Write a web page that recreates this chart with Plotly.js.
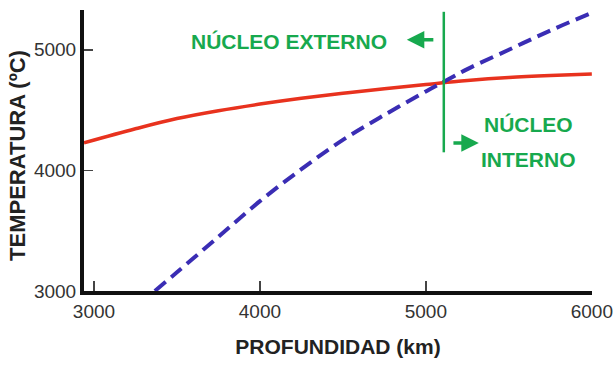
<!DOCTYPE html>
<html><head><meta charset="utf-8">
<script src="https://cdn.plot.ly/plotly-3.0.1.min.js"></script>
<style>body{margin:0;background:#fff}#c{width:614px;height:370px}</style>
</head><body><div id="c"></div>
<script>
const redDepth = [2940, 3250, 3500, 3750, 4000, 4250, 4500, 4750, 5000, 5250, 5500, 5750, 6000];
const redTemp  = [4228, 4345, 4430, 4495, 4550, 4598, 4640, 4677, 4712, 4745, 4770, 4787, 4800];
const blueDepth = [3367, 3500, 3750, 4000, 4250, 4500, 4750, 5000, 5108, 5250, 5500, 5750, 6000];
const blueTemp  = [3000, 3155, 3450, 3745, 4010, 4253, 4460, 4655, 4735, 4840, 5000, 5160, 5307];
const boundaryDepth = [5108, 5108];
const boundaryTemp = [4150, 5315];
const xTicks = [3000, 4000, 5000, 6000];
const yTicks = [3000, 4000, 5000];
const labelOuter = "NÚCLEO EXTERNO";
const labelInner1 = "NÚCLEO";
const labelInner2 = "INTERNO";
const xTitle = "PROFUNDIDAD (km)";
const yTitle = "TEMPERATURA (ºC)";

const F = '"Liberation Sans", Arial, sans-serif';
const GREEN = '#17a94e';

const traces = [
  {x: redDepth, y: redTemp, mode: 'lines', line: {color: '#e8321e', width: 3.5, shape: 'spline'}, hoverinfo: 'skip'},
  {x: blueDepth, y: blueTemp, mode: 'lines', line: {color: '#3a2db4', width: 4, shape: 'spline', dash: '14px,7px'}, hoverinfo: 'skip'},
  {x: boundaryDepth, y: boundaryTemp, mode: 'lines', line: {color: GREEN, width: 2.5}, hoverinfo: 'skip'}
];

const layout = {
  width: 614, height: 370,
  margin: {l: 84, r: 22, t: 10, b: 79},
  paper_bgcolor: '#fff', plot_bgcolor: '#fff',
  showlegend: false,
  xaxis: {
    range: [2940, 6001], tickvals: xTicks, ticktext: xTicks.map(String),
    showgrid: false, zeroline: false, showline: true, linecolor: '#111', linewidth: 4,
    ticks: 'inside', ticklen: 10, tickwidth: 1.5, tickcolor: '#444',
    tickfont: {family: F, size: 19, color: '#333'},
    title: {text: xTitle, font: {family: F, size: 21, color: '#222', weight: 'bold'}, standoff: 20}
  },
  yaxis: {
    range: [3000, 5330], tickvals: yTicks, ticktext: yTicks.map(String),
    showgrid: false, zeroline: false, showline: true, linecolor: '#111', linewidth: 4,
    ticks: 'inside', ticklen: 9, tickwidth: 1.5, tickcolor: '#444',
    tickfont: {family: F, size: 19, color: '#333'}
  },
  annotations: [
    {x: -0.13, y: 0.484, xref: 'paper', yref: 'paper', xanchor: 'center', yanchor: 'middle',
     text: yTitle, textangle: -90, showarrow: false,
     font: {family: F, size: 22, color: '#222', weight: 'bold'}},
    {x: 4175, y: 5066, xref: 'x', yref: 'y', text: labelOuter, showarrow: false,
     font: {family: F, size: 21, color: GREEN, weight: 'bold'}},
    {x: 5620, y: 4382, xref: 'x', yref: 'y', text: labelInner1, showarrow: false,
     font: {family: F, size: 21, color: GREEN, weight: 'bold'}},
    {x: 5620, y: 4092, xref: 'x', yref: 'y', text: labelInner2, showarrow: false,
     font: {family: F, size: 21, color: GREEN, weight: 'bold'}},
    {x: 4885, y: 5083, ax: 5054, ay: 5083, xref: 'x', yref: 'y', axref: 'x', ayref: 'y', text: '',
     showarrow: true, arrowhead: 2, arrowsize: 1, arrowwidth: 3.5, arrowcolor: GREEN},
    {x: 5319, y: 4228, ax: 5157, ay: 4228, xref: 'x', yref: 'y', axref: 'x', ayref: 'y', text: '',
     showarrow: true, arrowhead: 2, arrowsize: 1, arrowwidth: 3.5, arrowcolor: GREEN}
  ]
};
Plotly.newPlot('c', traces, layout, {staticPlot: true});
</script></body></html>
